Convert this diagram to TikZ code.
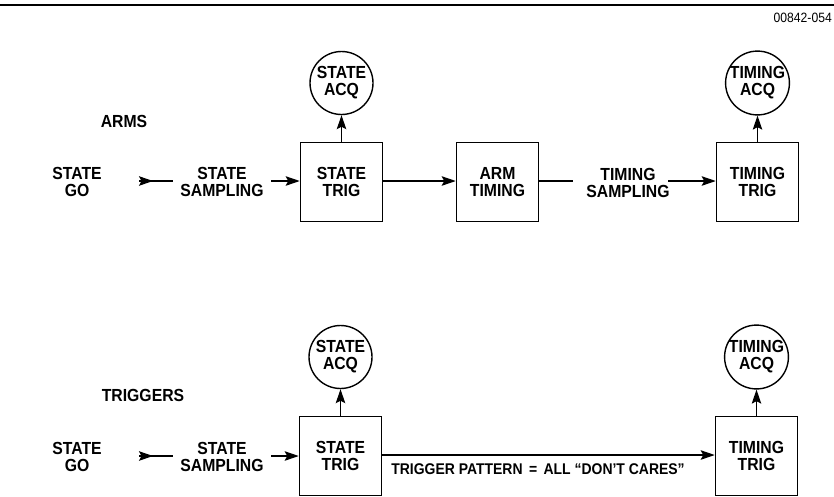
\documentclass[tikz,border=0pt]{standalone}
\usepackage{fontspec}
\setmainfont[FakeStretch=0.9]{Liberation Sans}
\usetikzlibrary{arrows.meta}
\begin{document}
\begin{tikzpicture}[x=1pt,y=-1pt,
  lbl/.style={font=\fontsize{17.5}{17}\selectfont\bfseries, align=center, inner sep=0pt},
  small/.style={font=\fontsize{15.5}{15.5}\selectfont\bfseries, inner sep=0pt},
  code/.style={font=\fontsize{13.5}{13.5}\selectfont, inner sep=0pt},
  box/.style={draw, line width=1.6pt, minimum width=82pt, minimum height=79pt, lbl},
  acq/.style={draw, circle, line width=1.4pt, minimum size=63pt, inner sep=0pt, lbl},
  conn/.style={line width=1.1pt},
  arr/.style={conn, -{Stealth[length=14pt,width=9.5pt,inset=2.5pt]}}]
\useasboundingbox (0,0) rectangle (834,496);
% top rule and code
\coordinate (r1) at (0,5);
\coordinate (r2) at (834,5);
\draw[line width=2.8pt] (r1) -- (r2);
\node[code, anchor=east] (code) at (832,18) {00842-054};

% ---------- ARMS row ----------
\node[lbl] (arms) at (124,121) {ARMS};
\node[lbl] (go1) at (77,182) {STATE\\GO};
\node[lbl] (samp1) at (222,182) {STATE\\SAMPLING};
\node[box] (trig1) at (341.5,182) {STATE\\TRIG};
\node[acq] (acq1) at (341.5,83) {STATE\\ACQ};
\node[box] (arm) at (497.5,182) {ARM\\TIMING};
\node[lbl] (samp2) at (628,183) {TIMING\\SAMPLING};
\node[box] (tt1) at (757.5,182) {TIMING\\TRIG};
\node[acq] (tacq1) at (757.5,83) {TIMING\\ACQ};

\coordinate (g1a) at (139,181);
\coordinate (g1b) at (173,181);
\draw[arr] (g1a) -- ++(14,0);
\draw[conn] (g1a) -- (g1b);
\coordinate (s1) at (271,181);
\draw[arr] (s1) -- (s1 -| trig1.west);
\draw[arr] (trig1.north) -- (acq1.south);
\draw[arr] (trig1.east |- s1) -- (arm.west |- s1);
\coordinate (l2) at (573,181);
\draw[conn] (arm.east |- l2) -- (l2);
\coordinate (l3) at (668,181);
\draw[arr] (l3) -- (l3 -| tt1.west);
\draw[arr] (tt1.north) -- (tacq1.south);

% ---------- TRIGGERS row ----------
\node[lbl] (trigs) at (143,395) {TRIGGERS};
\node[lbl] (go2) at (77,457) {STATE\\GO};
\node[lbl] (samp2b) at (222,457) {STATE\\SAMPLING};
\node[box] (trig2) at (340.5,456) {STATE\\TRIG};
\node[acq] (acq2) at (340.5,357) {STATE\\ACQ};
\node[box] (tt2) at (756.5,456) {TIMING\\TRIG};
\node[acq] (tacq2) at (756.5,357) {TIMING\\ACQ};

\coordinate (g2a) at (139,456);
\coordinate (g2b) at (173,456);
\draw[arr] (g2a) -- ++(14,0);
\draw[conn] (g2a) -- (g2b);
\coordinate (s2) at (271,456);
\draw[arr] (s2) -- (s2 -| trig2.west);
\draw[arr] (trig2.north) -- (acq2.south);
\coordinate (p) at (380,455);
\draw[arr] (trig2.east |- p) -- (tt2.west |- p);
\draw[arr] (tt2.north) -- (tacq2.south);
\node[small] (pat) at (538,469) {TRIGGER PATTERN\ \,=\ \,ALL ``DON'T CARES''};
\end{tikzpicture}
\end{document}
